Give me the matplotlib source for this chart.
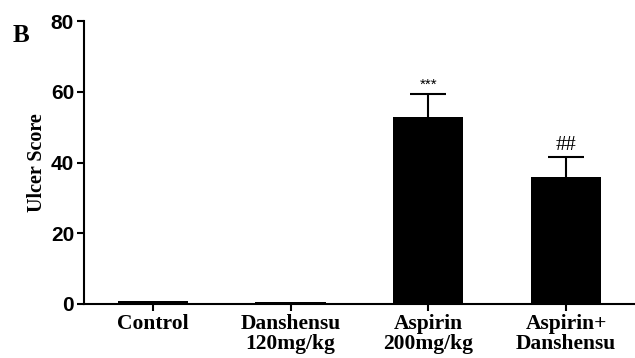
import numpy as np
import matplotlib
matplotlib.use('Agg')
import matplotlib.pyplot as plt

groups = ['Control', 'Danshensu\n120mg/kg', 'Aspirin\n200mg/kg', 'Aspirin+\nDanshensu']
scores = [0.8, 0.5, 52.8, 35.9]
errors = [0.0, 0.0, 6.5, 5.6]
marks = ['', '', '***', '##']
yticks = [0, 20, 40, 60, 80]


def main():
    fig = plt.figure(figsize=(6.35, 3.58), dpi=100)
    ax = fig.add_axes([0.132, 0.151, 0.868, 0.79])
    x = np.arange(len(groups))
    top = np.array(scores) + np.array(errors)

    ax.bar(x, scores, width=0.51, color='black', zorder=2)
    has_err = np.array(errors) > 0
    ax.vlines(x[has_err], np.array(scores)[has_err], top[has_err],
              color='black', linewidth=1.5, zorder=3)
    ax.hlines(top[has_err], x[has_err] - 0.13, x[has_err] + 0.13,
              color='black', linewidth=1.5, zorder=3)
    for xi, t, m in zip(x, top, marks):
        if m == '***':
            ax.text(xi, t + 0.6, m, ha='center', va='bottom',
                    family='Liberation Sans', fontsize=11)
        elif m:
            ax.text(xi, t + 0.6, m, ha='center', va='bottom',
                    family='Liberation Serif', fontsize=15)

    ax.set_xlim(-0.5, 3.5)
    ax.set_ylim(0, 80)
    ax.set_yticks(yticks)
    ax.set_xticks(x)
    ax.set_xticklabels(groups, family='Liberation Serif', fontweight='bold',
                       fontsize=15.5, linespacing=1.0)
    for lab in ax.get_yticklabels():
        lab.set_family('Liberation Sans')
        lab.set_fontweight('bold')
        lab.set_fontsize(15)
    ax.set_ylabel('Ulcer Score', family='Liberation Serif', fontweight='bold',
                  fontsize=14.5, labelpad=3)

    for side in ['top', 'right']:
        ax.spines[side].set_visible(False)
    for side in ['left', 'bottom']:
        ax.spines[side].set_linewidth(1.5)
    ax.tick_params(axis='both', width=1.5, length=5, direction='out', pad=2)

    fig.text(0.02, 0.883, 'B', family='Liberation Serif', fontweight='bold', fontsize=18)

    fig.savefig('out.png', dpi=100)


if __name__ == '__main__':
    main()
